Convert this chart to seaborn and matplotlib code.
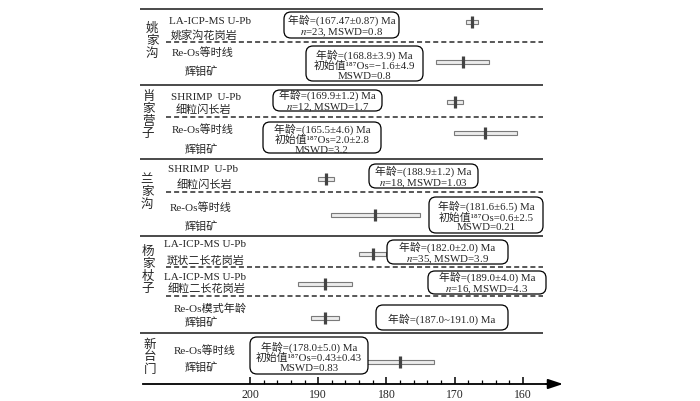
import matplotlib
matplotlib.use("Agg")
import matplotlib.pyplot as plt
from matplotlib.patches import FancyBboxPatch
from matplotlib.ticker import FixedLocator
import numpy as np
import seaborn as sns

# deposits / intrusions, top to bottom
sites = ["姚家沟", "肖家营子", "兰家沟", "杨家杖子", "新台门"]

methods = ["LA-ICP-MS U-Pb", "Re-Os等时线", "SHRIMP  U-Pb", "Re-Os等时线",
           "SHRIMP  U-Pb", "Re-Os等时线", "LA-ICP-MS U-Pb", "LA-ICP-MS U-Pb",
           "Re-Os模式年龄", "Re-Os等时线"]
rocks = ["姚家沟花岗岩", "辉钼矿", "细粒闪长岩", "辉钼矿", "细粒闪长岩", "辉钼矿",
         "斑状二长花岗岩", "细粒二长花岗岩", "辉钼矿", "辉钼矿"]

# ages (Ma) and 1 sigma errors
ages = [167.47, 168.8, 169.9, 165.5, 188.9, 181.6, 182.0, 189.0, 189.0, 178.0]
errors = [0.87, 3.9, 1.2, 4.6, 1.2, 6.5, 2.0, 4.0, 2.0, 5.0]

notes = [
    ["年龄=(167.47±0.87) Ma", "$n$=23, MSWD=0.8"],
    ["年龄=(168.8±3.9) Ma", "初始值¹⁸⁷Os=−1.6±4.9", "MSWD=0.8"],
    ["年龄=(169.9±1.2) Ma", "$n$=12, MSWD=1.7"],
    ["年龄=(165.5±4.6) Ma", "初始值¹⁸⁷Os=2.0±2.8", "MSWD=3.2"],
    ["年龄=(188.9±1.2) Ma", "$n$=18, MSWD=1.03"],
    ["年龄=(181.6±6.5) Ma", "初始值¹⁸⁷Os=0.6±2.5", "MSWD=0.21"],
    ["年龄=(182.0±2.0) Ma", "$n$=35, MSWD=3.9"],
    ["年龄=(189.0±4.0) Ma", "$n$=16, MSWD=4.3"],
    ["年龄=(187.0~191.0) Ma"],
    ["年龄=(178.0±5.0) Ma", "初始值¹⁸⁷Os=0.43±0.43", "MSWD=0.83"],
]

major_ticks = [200, 190, 180, 170, 160]


def main():
    sns.set_style("white")
    plt.rcParams["font.family"] = ["Liberation Serif", "Noto Sans CJK SC", "DejaVu Sans"]
    plt.rcParams["mathtext.fontset"] = "stix"

    # layout in pixels (y grows downward)
    bar_y = [23, 63, 103, 134, 180, 216, 255, 285, 319, 363]
    solid_y = [10, 86, 160, 237, 334]
    dash_y = [43, 118, 193, 268, 297]
    site_xy = [(152, 29), (148, 97), (147, 180), (148, 252), (150, 345)]
    method_xy = [(169, 22), (172, 53), (171, 97), (172, 130), (168, 170),
                 (170, 208), (164, 245), (164, 278), (174, 309), (174, 351)]
    rock_xy = [(171, 35), (185, 72), (176, 110), (185, 150), (177, 185),
               (185, 227), (167, 261), (168, 289), (185, 323), (185, 368)]
    boxes = [(284, 399, 13, 39), (306, 423, 47, 82), (273, 382, 91, 112),
             (263, 381, 123, 154), (369, 478, 165, 189), (429, 543, 198, 234),
             (387, 508, 241, 265), (428, 546, 272, 295), (376, 508, 306, 331),
             (250, 368, 338, 375)]

    fig = plt.figure(figsize=(7, 4.02), dpi=100)
    ax = fig.add_axes([0, 0, 1, 1])
    ov = fig.add_axes([0, 0, 1, 1])

    # age ranges + age marks
    a = np.array(ages)
    e = np.array(errors)
    ax.barh(bar_y, width=2 * e, left=a - e, height=4.5, color="#ececec",
            edgecolor="#7a7a7a", linewidth=0.8, zorder=2)
    sns.scatterplot(x=ages, y=bar_y, marker="|", s=78, linewidth=2.3,
                    color="#434343", ax=ax, zorder=3, legend=False)

    # 200 Ma sits at x=250 px, 6.82 px per Ma, time runs right to left
    ppm = 6.82
    ax.set_xlim(200 + 250 / ppm, 200 - 450 / ppm)
    ax.set_ylim(402, 0)
    for s in ["top", "left", "right"]:
        ax.spines[s].set_visible(False)
    ax.spines["bottom"].set_position(("data", 385))
    ax.spines["bottom"].set_bounds(200 + 107 / ppm, 200 - 300 / ppm)
    ax.spines["bottom"].set_linewidth(1.3)
    ax.spines["bottom"].set_color("black")
    ax.set_yticks([])
    ax.set_xlabel("")
    ax.set_ylabel("")
    ax.xaxis.set_major_locator(FixedLocator(major_ticks))
    ax.xaxis.set_minor_locator(FixedLocator([t for t in range(162, 200, 2) if t % 10]))
    ax.tick_params(axis="x", which="major", bottom=True, direction="in", length=5,
                   width=1.1, pad=3, labelsize=8.5, color="black")
    ax.tick_params(axis="x", which="minor", bottom=True, direction="in", length=2.8,
                   width=0.9, color="black")

    # overlay in pixel units for frame lines, labels, boxes
    ov.set_xlim(0, 700)
    ov.set_ylim(402, 0)
    ov.axis("off")
    ov.annotate("", xy=(563, 385), xytext=(546, 385),
                arrowprops=dict(arrowstyle="-|>,head_length=0.9,head_width=0.3",
                                color="black", lw=1.3, mutation_scale=10,
                                shrinkA=0, shrinkB=0))

    ov.hlines(solid_y, 140, 543, color="#2a2a2a", lw=1.2)
    ov.hlines(dash_y, 166, 543, color="#2a2a2a", lw=1.1, linestyles=(0, (3.3, 2)))

    for name, (x, y) in zip(sites, site_xy):
        for i, ch in enumerate(name):
            ov.text(x, y + i * 12.4, ch, fontsize=9, ha="center", va="center")

    for i in range(len(methods)):
        ov.text(method_xy[i][0], method_xy[i][1], methods[i], fontsize=8, va="center")
        ov.text(rock_xy[i][0], rock_xy[i][1], rocks[i], fontsize=8, va="center")

    # one text block per box so the lines share a layout
    for lines, (x0, x1, y0, y1) in zip(notes, boxes):
        ov.add_patch(FancyBboxPatch((x0, y0), x1 - x0, y1 - y0,
                                    boxstyle="round,pad=0,rounding_size=7",
                                    fc="white", ec="black", lw=0.9, zorder=3))
        ov.text((x0 + x1) / 2, (y0 + y1) / 2 + 0.5, "\n".join(lines), fontsize=7.8,
                ha="center", va="center", multialignment="center",
                linespacing=1.08, zorder=4)

    fig.savefig("out.png", dpi=100)


if __name__ == "__main__":
    main()
